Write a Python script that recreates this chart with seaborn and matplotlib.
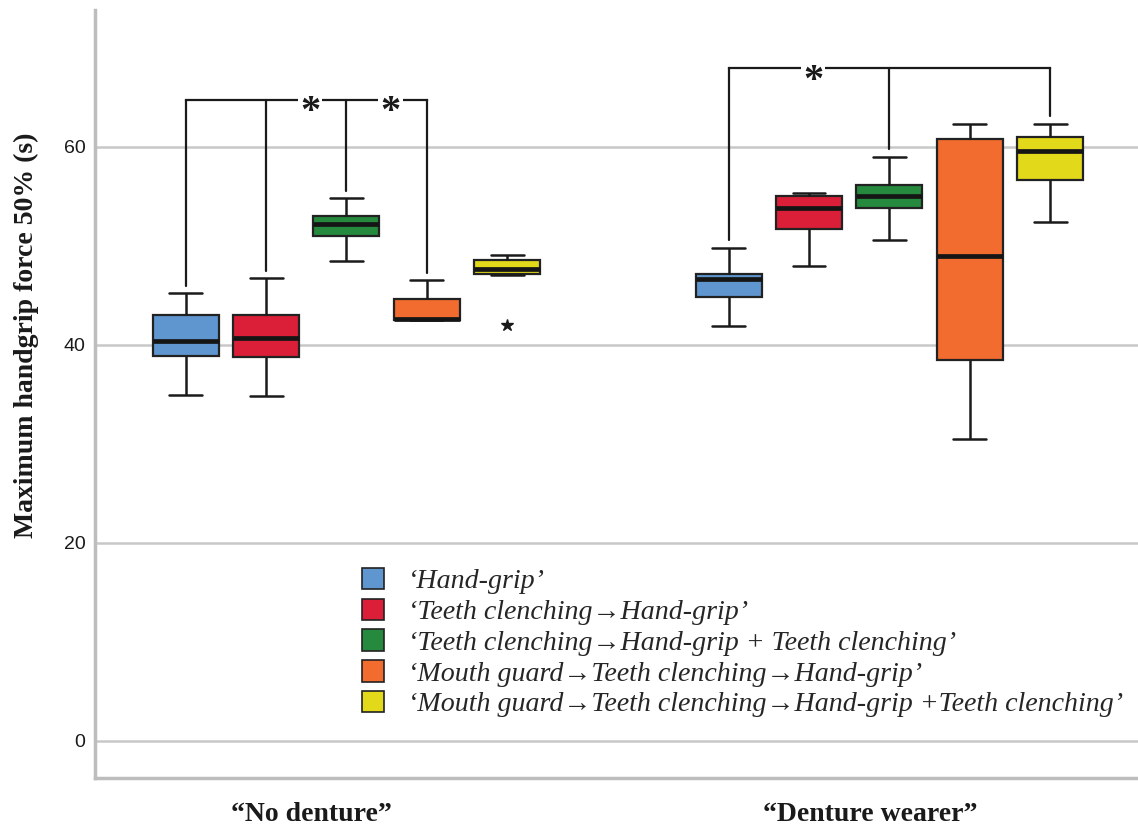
import numpy as np
import pandas as pd
import seaborn as sns
import matplotlib.pyplot as plt
from matplotlib.patches import Patch
from matplotlib.transforms import ScaledTranslation

groups = ["“No denture”", "“Denture wearer”"]
conditions = [
    "‘Hand-grip’",
    "‘Teeth clenching→Hand-grip’",
    "‘Teeth clenching→Hand-grip + Teeth clenching’",
    "‘Mouth guard→Teeth clenching→Hand-grip’",
    "‘Mouth guard→Teeth clenching→Hand-grip +Teeth clenching’",
]
colors = ["#5f96cf", "#dc1f38", "#258a3e", "#f26b2f", "#e1d91a"]

# five-number summaries per condition: min, Q1, median, Q3, max
no_denture = [
    [34.9, 38.9, 40.4, 43.0, 45.2],
    [34.8, 38.8, 40.7, 43.0, 46.7],
    [48.5, 51.0, 52.2, 53.0, 54.8],
    [42.5, 42.5, 42.6, 44.6, 46.5],
    [47.0, 47.1, 47.6, 48.6, 49.1],
]
denture_wearer = [
    [41.9, 44.8, 46.6, 47.1, 49.8],
    [48.0, 51.7, 53.8, 55.0, 55.3],
    [50.6, 53.8, 55.0, 56.1, 59.0],
    [30.5, 38.5, 49.0, 60.8, 62.3],
    [52.4, 56.6, 59.6, 61.0, 62.3],
]

# extreme value shown as a star
outlier_group = [0]
outlier_condition = [4]
outlier_value = [42.0]

# significance brackets: group, conditions joined, bar height, star gaps
bracket_group = [0, 1]
bracket_conditions = [[0, 1, 2, 3], [0, 2, 4]]
bracket_height = [64.7, 67.9]
bracket_stars = [[(1, 2), (2, 3)], [(0, 2)]]

y_ticks = [0, 20, 40, 60]

rows = []
for g, summary in zip(groups, [no_denture, denture_wearer]):
    for c, vals in zip(conditions, summary):
        for v in vals:
            rows.append({"group": g, "condition": c, "value": v})
df = pd.DataFrame(rows)

sns.set_theme(style="white")
plt.rcParams["font.family"] = ["Liberation Sans", "DejaVu Sans"]
serif = ["Liberation Serif", "DejaVu Serif"]

fig = plt.figure(figsize=(11.38, 8.32), dpi=100)
ax = fig.add_axes([95 / 1138, 1 - 778 / 832, 1 - 95 / 1138, (778 - 10) / 832])

box_width = 0.74
ax.yaxis.grid(True, color="#c8c8c8", lw=1.8)
ax.set_axisbelow(True)

sns.boxplot(
    data=df, x="group", y="value", hue="condition",
    order=groups, hue_order=conditions, palette=colors, saturation=1,
    width=box_width, gap=0.18, whis=(0, 100), fliersize=0,
    linecolor="#222222", linewidth=1.6, legend=False, ax=ax,
    medianprops=dict(color="#151515", linewidth=3.4),
    whiskerprops=dict(color="#1a1a1a", linewidth=1.8),
    capprops=dict(color="#1a1a1a", linewidth=1.8),
)

slot = box_width / len(conditions)


def xpos(group_idx, cond_idx):
    return group_idx - box_width / 2 + slot * (cond_idx + 0.5)


summaries = [no_denture, denture_wearer]

# outlier star
ax.plot([xpos(g, c) for g, c in zip(outlier_group, outlier_condition)],
        outlier_value, ls="none", marker="*", ms=9, color="#1a1a1a")

# brackets
star_shift = ScaledTranslation(4 / 100, -6 / 72, fig.dpi_scale_trans)
for g, conds, h, stars in zip(bracket_group, bracket_conditions,
                              bracket_height, bracket_stars):
    xs = [xpos(g, c) for c in conds]
    ax.plot([xs[0], xs[-1]], [h, h], color="#1a1a1a", lw=1.6,
            solid_capstyle="projecting", zorder=4)
    for c, x in zip(conds, xs):
        top = summaries[g][c][4]
        ax.plot([x, x], [top + 0.75, h], color="#1a1a1a", lw=1.6, zorder=4)
    for a, b in stars:
        xm = (xpos(g, a) + xpos(g, b)) / 2
        ax.text(xm, h, "*", ha="center", va="center_baseline",
                fontsize=29, fontweight="bold", family=serif,
                color="#1a1a1a", zorder=5,
                bbox=dict(facecolor="white", edgecolor="none", pad=1.5),
                transform=ax.transData + star_shift)

ax.set_xlim(-0.463, 1.458)
ax.set_ylim(-3.74, 73.8)
ax.set_yticks(y_ticks)
ax.set_yticklabels([str(t) for t in y_ticks], fontsize=14, color="#1a1a1a")
ax.tick_params(axis="both", length=0)
ax.tick_params(axis="y", pad=7)
ax.tick_params(axis="x", pad=17)

for lab, dx in zip(ax.get_xticklabels(), [-34.5, -19.5]):
    lab.set_fontfamily(serif)
    lab.set_fontweight("bold")
    lab.set_fontsize(20)
    lab.set_color("#1a1a1a")
    lab.set_transform(lab.get_transform() + ScaledTranslation(dx / 100, 0, fig.dpi_scale_trans))

ax.set_xlabel("")
ax.set_ylabel("Maximum handgrip force 50% (s)", fontsize=20, fontweight="bold",
              family=serif, color="#1a1a1a")
ax.yaxis.set_label_coords(-0.054, 0.577)

for side in ["top", "right"]:
    ax.spines[side].set_visible(False)
for side in ["left", "bottom"]:
    ax.spines[side].set_color("#bdbdbd")
    ax.spines[side].set_linewidth(2.5)

handles = [Patch(facecolor=c, edgecolor="#222222", lw=1.2) for c in colors]
fig.legend(handles, conditions, loc="upper left",
           bbox_to_anchor=(362 / 1138, 1 - 568 / 832),
           frameon=False, borderpad=0, borderaxespad=0,
           handlelength=0.8, handleheight=0.8, handletextpad=0.85,
           labelspacing=0.15,
           prop=dict(family=serif, style="italic", size=20.2))

fig.savefig("out.png", dpi=100)
